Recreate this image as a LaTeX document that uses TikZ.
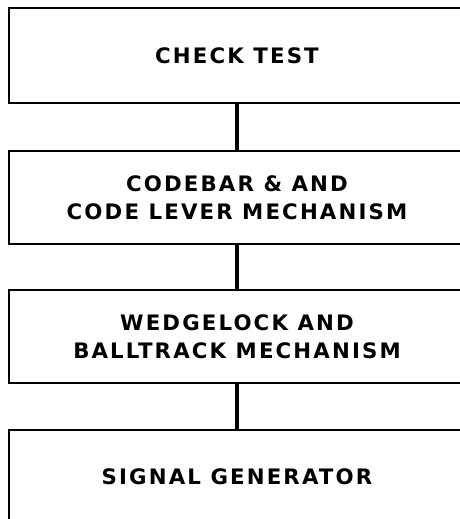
\documentclass[tikz,border=0pt]{standalone}
\usepackage{fontspec}
\newfontfamily\bloquefont{DejaVu Sans}[LetterSpace=10]
\usetikzlibrary{positioning}
\tikzset{
	bloque/.style={
		draw,
		line width=1.6pt,
		minimum width=456pt,
		align=center,
		inner sep=0pt,
		font=\bloquefont\bfseries\fontsize{21.3}{28}\selectfont
	},
	enlace/.style={
		line width=4.5pt
	}
}
\begin{document}
\begin{tikzpicture}[x=1pt, y=-1pt]
		\useasboundingbox (0,0) rectangle (460,519);
		\node[bloque, minimum height=95pt] (check) at (237,55.5) {CHECK TEST};
		\node[bloque, minimum height=93pt] (codebar) at (237,197.5) {CODEBAR \& AND\\CODE LEVER MECHANISM};
		\node[bloque, minimum height=93pt] (wedge) at (237,336.5) {WEDGELOCK AND\\BALLTRACK MECHANISM};
		\node[bloque, minimum height=93pt] (signal) at (237,476.5) {SIGNAL GENERATOR};
		\draw[enlace] (check) -- (codebar);
		\draw[enlace] (codebar) -- (wedge);
		\draw[enlace] (wedge) -- (signal);
	\end{tikzpicture}
\end{document}
